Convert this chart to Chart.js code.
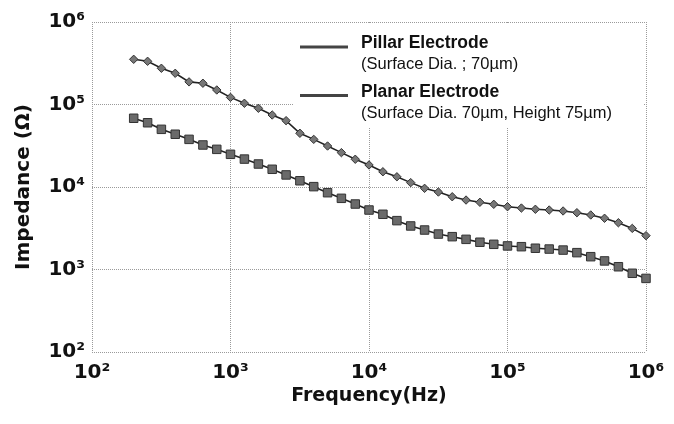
<!DOCTYPE html>
<html>
<head>
<meta charset="utf-8">
<script src="https://cdn.jsdelivr.net/npm/chart.js@4.4.1/dist/chart.umd.min.js"></script>
<style>
  html, body { margin: 0; padding: 0; background: #fff; }
  #wrap { width: 674px; height: 424px; }
</style>
</head>
<body>
<div id="wrap"><canvas id="chart" width="674" height="424"></canvas></div>
<script>
// frequency sweep (Hz)
const freqHz = [200, 252, 317, 399, 502, 632, 796,
  1000, 1260, 1590, 2000, 2520, 3170, 3990, 5020, 6320, 7960,
  10000, 12600, 15900, 20000, 25200, 31700, 39900, 50200, 63200, 79600,
  100000, 126000, 159000, 200000, 252000, 317000, 399000, 502000, 632000, 796000,
  1000000];

// impedance (ohm)
const pillarOhm = [353000, 334000, 275000, 239000, 188000, 181000, 150000,
  122000, 103500, 90000, 74600, 63700, 44800, 37800, 31400, 26100, 21700,
  18500, 15300, 13300, 11300, 9640, 8690, 7620, 6950, 6530, 6170,
  5770, 5560, 5370, 5260, 5120, 4880, 4580, 4180, 3690, 3150,
  2570];

const planarOhm = [68100, 60100, 50000, 43600, 37800, 32300, 28600,
  24900, 21800, 19000, 16400, 14000, 11900, 10100, 8530, 7290, 6220,
  5260, 4670, 3910, 3370, 3010, 2690, 2500, 2320, 2140, 2020,
  1930, 1890, 1810, 1770, 1720, 1600, 1430, 1270, 1080, 900,
  780];

const decadeTicks = [1e2, 1e3, 1e4, 1e5, 1e6];
const supDigits = { 2: '\u00B2', 3: '\u00B3', 4: '\u2074', 5: '\u2075', 6: '\u2076' };

const legendItems = [
  { title: 'Pillar Electrode', sub: '(Surface Dia. ; 70\u00B5m)' },
  { title: 'Planar Electrode', sub: '(Surface Dia. 70\u00B5m, Height 75\u00B5m)' }
];

function powLabel(v) {
  const e = Math.round(Math.log10(v));
  return '10' + (supDigits[e] || e);
}

// custom legend: white box over the grid, line sample + two text lines
const boxLegend = {
  id: 'boxLegend',
  beforeDatasetsDraw(chart) {
    const ctx = chart.ctx;
    ctx.save();
    ctx.fillStyle = '#fff';
    ctx.fillRect(294, 23, 350, 105);
    legendItems.forEach((item, i) => {
      const y0 = 48 + i * 48.5;
      ctx.strokeStyle = '#444';
      ctx.lineWidth = 3;
      ctx.beginPath();
      ctx.moveTo(300, y0 - 1);
      ctx.lineTo(348, y0 - 1);
      ctx.stroke();
      ctx.fillStyle = '#111';
      ctx.textBaseline = 'alphabetic';
      ctx.font = 'bold 17.5px "Liberation Sans", Arial, sans-serif';
      ctx.fillText(item.title, 361, y0);
      ctx.font = '16.5px "Liberation Sans", Arial, sans-serif';
      ctx.fillText(item.sub, 361, y0 + 21);
    });
    ctx.restore();
  }
};

const ctx = document.getElementById('chart').getContext('2d');
new Chart(ctx, {
  type: 'line',
  data: {
    datasets: [{
      label: 'Pillar Electrode',
      data: freqHz.map((f, i) => ({ x: f, y: pillarOhm[i] })),
      borderColor: '#222',
      borderWidth: 1.6,
      pointStyle: 'rectRot',
      pointRadius: 4.2,
      pointBackgroundColor: '#777',
      pointBorderColor: '#333',
      pointBorderWidth: 1,
      tension: 0,
      clip: false
    }, {
      label: 'Planar Electrode',
      data: freqHz.map((f, i) => ({ x: f, y: planarOhm[i] })),
      borderColor: '#222',
      borderWidth: 1.6,
      pointStyle: 'rect',
      pointRadius: 6,
      pointBackgroundColor: '#6a6a6a',
      pointBorderColor: '#333',
      pointBorderWidth: 1,
      tension: 0,
      clip: false
    }]
  },
  options: {
    responsive: false,
    animation: false,
    layout: { padding: { left: 0, right: 28, top: 22, bottom: 0 } },
    plugins: { legend: { display: false }, tooltip: { enabled: false } },
    scales: {
      x: {
        type: 'logarithmic',
        min: 1e2,
        max: 1e6,
        afterBuildTicks: (s) => { s.ticks = decadeTicks.map(v => ({ value: v })); },
        afterFit: (s) => { s.height = 72; },
        grid: { color: '#9a9a9a', lineWidth: 1, drawTicks: false },
        border: { display: false, dash: [1, 1] },
        ticks: {
          padding: 9,
          maxRotation: 0,
          color: '#111',
          font: { family: '"DejaVu Sans", sans-serif', size: 20, weight: 'bold' },
          callback: (v) => powLabel(v)
        },
        title: {
          display: true,
          text: 'Frequency(Hz)',
          color: '#111',
          font: { family: '"DejaVu Sans", sans-serif', size: 19, weight: 'bold' },
          padding: { top: 0, bottom: 17 }
        }
      },
      y: {
        type: 'logarithmic',
        min: 1e2,
        max: 1e6,
        afterBuildTicks: (s) => { s.ticks = decadeTicks.map(v => ({ value: v })); },
        afterFit: (s) => { s.width = 92; },
        grid: { color: '#9a9a9a', lineWidth: 1, drawTicks: false },
        border: { display: false, dash: [1, 1] },
        ticks: {
          padding: 7,
          color: '#111',
          font: { family: '"DejaVu Sans", sans-serif', size: 20, weight: 'bold' },
          callback: (v) => powLabel(v)
        },
        title: {
          display: true,
          text: 'Impedance (\u03A9)',
          color: '#111',
          font: { family: '"DejaVu Sans", sans-serif', size: 20, weight: 'bold' },
          padding: { top: 12, bottom: 0 }
        }
      }
    }
  },
  plugins: [boxLegend]
});
</script>
</body>
</html>
